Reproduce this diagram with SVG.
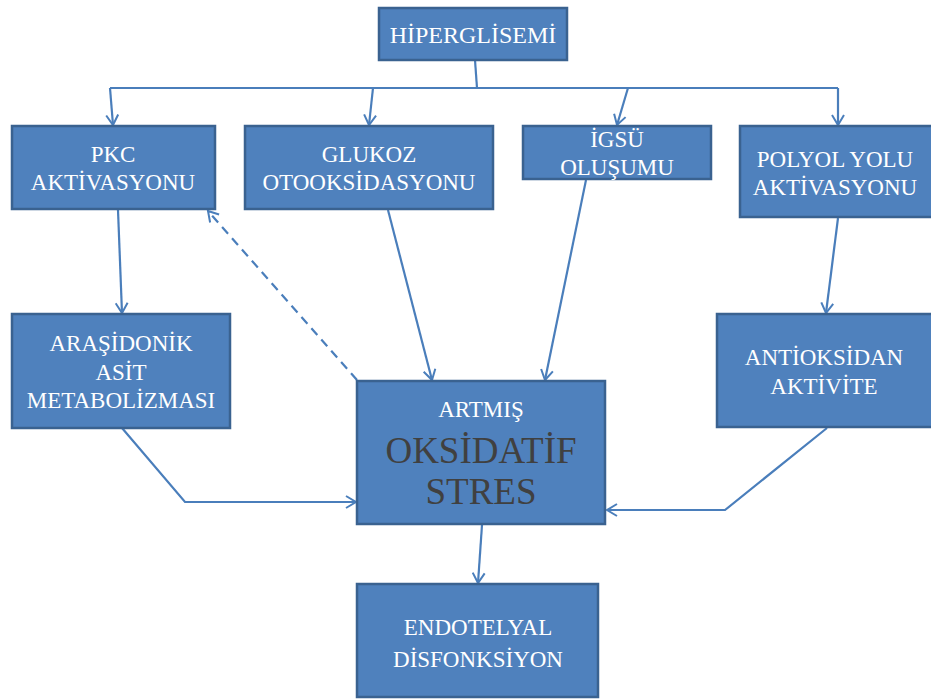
<svg xmlns="http://www.w3.org/2000/svg" width="931" height="700" viewBox="0 0 931 700">
<defs>
<marker id="arr" markerWidth="14" markerHeight="14" refX="12" refY="7" orient="auto" markerUnits="userSpaceOnUse">
<path d="M2,1 L12,7 L2,13" fill="none" stroke="#4A7EBB" stroke-width="2"/>
</marker>
</defs>
<style>
.box{fill:#4F81BD;stroke:#3A6290;stroke-width:2.5}
text{font-family:'Liberation Serif','Times New Roman',Tinos,'DejaVu Serif',serif}
.t{fill:#FFFFFF;text-anchor:middle;font-size:23px}
.big{fill:#404040;text-anchor:middle;font-size:37px}
.c{fill:none;stroke:#4A7EBB;stroke-width:2.2}
</style>
<rect width="931" height="700" fill="#FFFFFF"/>
<g id="connectors">
<polyline class="c" points="475,60 477,88"/>
<polyline class="c" points="110,88 838,88"/>
<line class="c" x1="110" y1="88" x2="113" y2="125" marker-end="url(#arr)"/>
<line class="c" x1="373" y1="88" x2="369" y2="125" marker-end="url(#arr)"/>
<line class="c" x1="628" y1="88" x2="617" y2="125" marker-end="url(#arr)"/>
<line class="c" x1="838" y1="88" x2="838" y2="125" marker-end="url(#arr)"/>
<line class="c" x1="118" y1="210" x2="122" y2="313" marker-end="url(#arr)"/>
<line class="c" x1="388" y1="210" x2="432" y2="380" marker-end="url(#arr)"/>
<line class="c" x1="586" y1="180" x2="545" y2="380" marker-end="url(#arr)"/>
<line class="c" x1="838" y1="218" x2="826" y2="313" marker-end="url(#arr)"/>
<polyline class="c" points="122,428 185,502 356,502" marker-end="url(#arr)"/>
<polyline class="c" points="827,428 725,510 607,510" marker-end="url(#arr)"/>
<line class="c" x1="357" y1="380" x2="208" y2="211" stroke-dasharray="9,6" marker-end="url(#arr)"/>
<line class="c" x1="482" y1="525" x2="478" y2="583" marker-end="url(#arr)"/>
</g>
<g id="hiperglisemi">
<rect class="box" x="379" y="8" width="188" height="52"/>
<text class="t" x="473" y="43" font-family="Liberation Serif, serif" style="font-size:24px">HİPERGLİSEMİ</text>
</g>
<g id="pkc">
<rect class="box" x="12" y="126" width="203" height="83"/>
<text class="t" x="113" y="162">PKC</text>
<text class="t" x="113" y="190">AKTİVASYONU</text>
</g>
<g id="glukoz">
<rect class="box" x="245" y="126" width="248" height="83"/>
<text class="t" x="369" y="162">GLUKOZ</text>
<text class="t" x="369" y="190">OTOOKSİDASYONU</text>
</g>
<g id="igsu">
<rect class="box" x="523" y="126" width="188" height="53"/>
<text class="t" x="617" y="147">İGSÜ</text>
<text class="t" x="617" y="175">OLUŞUMU</text>
</g>
<g id="polyol">
<rect class="box" x="740" y="126" width="195" height="91"/>
<text class="t" x="835" y="167">POLYOL YOLU</text>
<text class="t" x="835" y="195">AKTİVASYONU</text>
</g>
<g id="arasidonik">
<rect class="box" x="12" y="314" width="218" height="114"/>
<text class="t" x="121" y="351">ARAŞİDONİK</text>
<text class="t" x="121" y="380">ASİT</text>
<text class="t" x="121" y="408">METABOLİZMASI</text>
</g>
<g id="oksidatif">
<rect class="box" x="357" y="381" width="248" height="143"/>
<text class="t" x="481" y="417">ARTMIŞ</text>
<text class="big" x="481" y="463">OKSİDATİF</text>
<text class="big" x="481" y="504">STRES</text>
</g>
<g id="antioksidan">
<rect class="box" x="717" y="314" width="218" height="113"/>
<text class="t" x="824" y="365">ANTİOKSİDAN</text>
<text class="t" x="824" y="394">AKTİVİTE</text>
</g>
<g id="endotelyal">
<rect class="box" x="357" y="584" width="241" height="113"/>
<text class="t" x="478" y="635">ENDOTELYAL</text>
<text class="t" x="478" y="667">DİSFONKSİYON</text>
</g>
</svg>
